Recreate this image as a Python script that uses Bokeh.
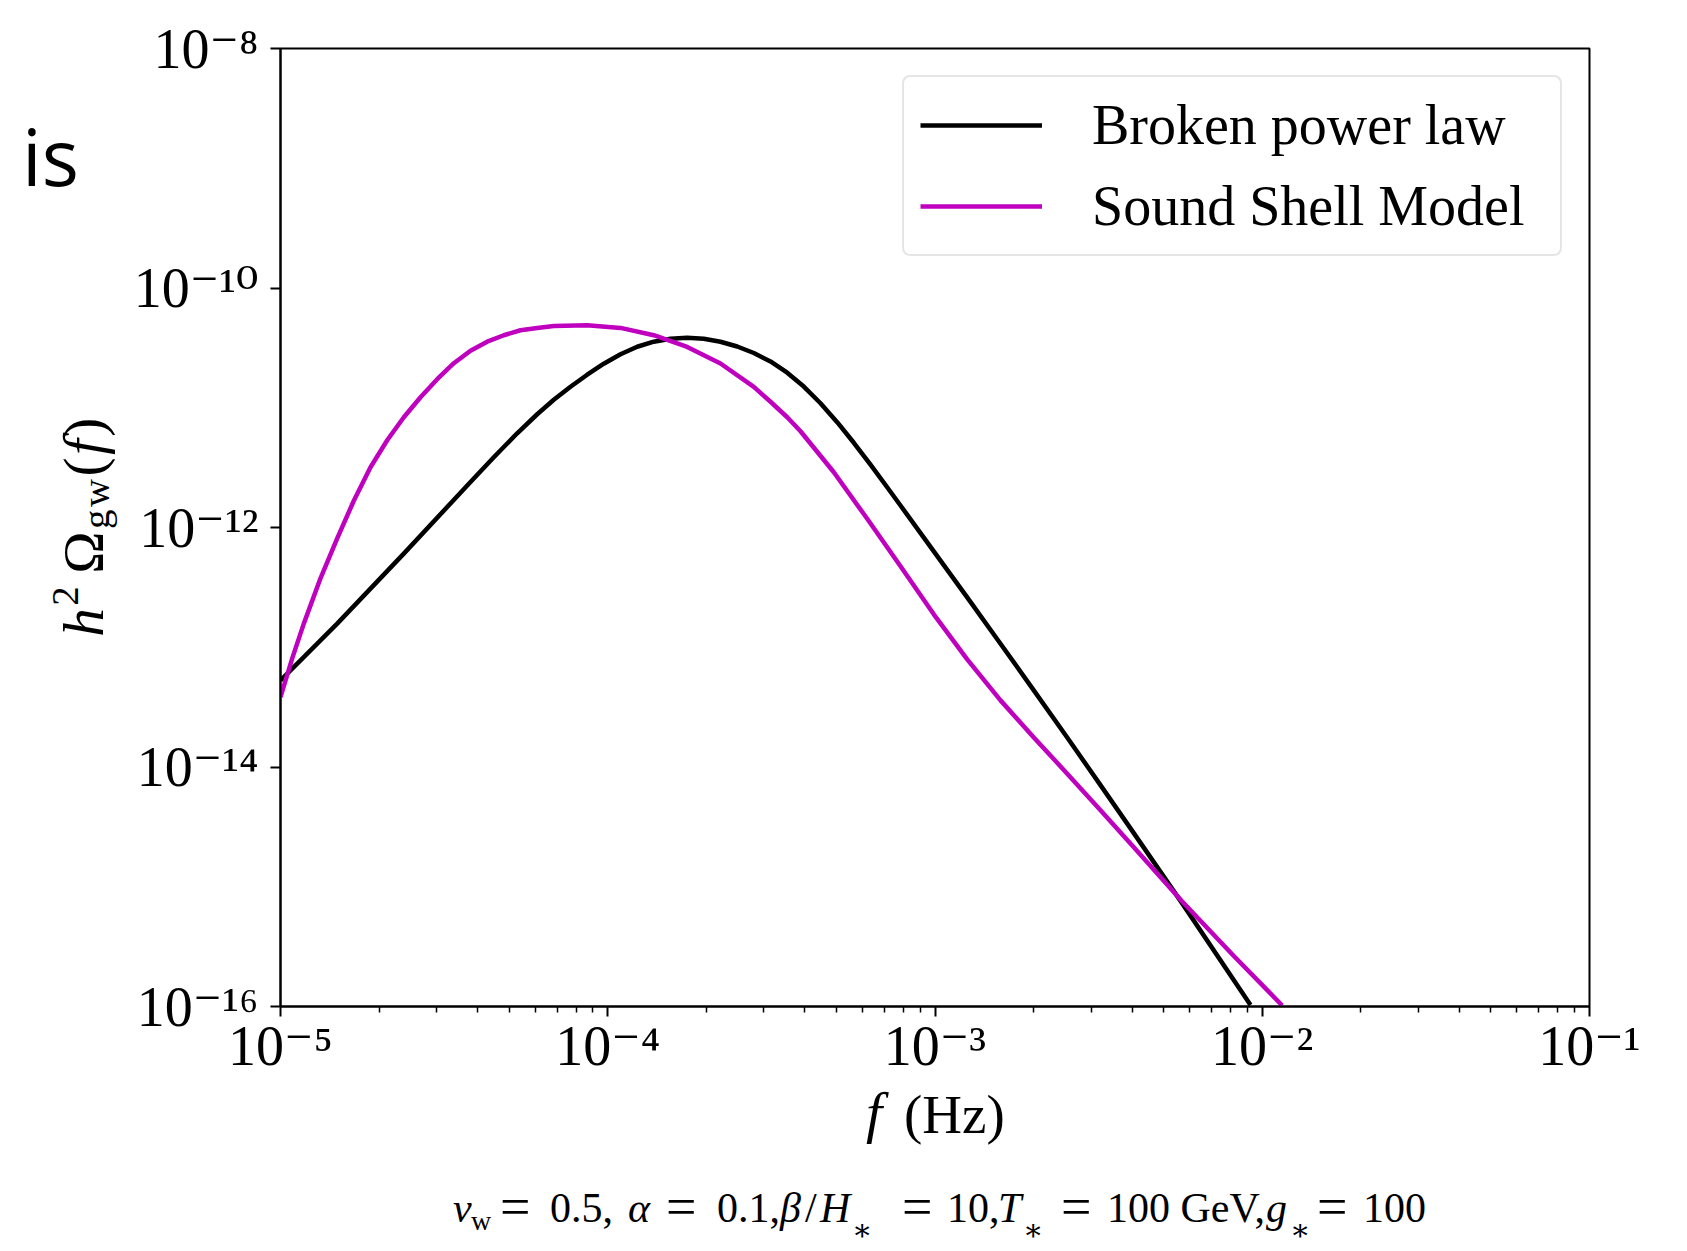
import numpy as np
from bokeh.plotting import figure
from bokeh.models import Range1d, FixedTicker, Legend, LegendItem, ColumnDataSource, Div
from bokeh.layouts import row, column
from bokeh.embed import file_html
from bokeh.resources import INLINE

# ---------------- data (log10 values) ----------------
bpl_log_f = [-5.0000, -4.8267, -4.6232, -4.4194, -4.3482, -4.2767, -4.2156, -4.1649,
             -4.1138, -4.0628, -4.0121, -3.9610, -3.9100, -3.8593, -3.8082, -3.7572,
             -3.7065, -3.6555, -3.6044, -3.5537, -3.5027, -3.4516, -3.4009, -3.3499,
             -3.2989, -3.2481, -3.1971, -3.1461, -3.1054, -3.0037, -2.9016, -2.7998,
             -2.6981, -2.5960, -2.4943, -2.3925, -2.2446, -2.0359]
bpl_log_omega = [-13.2766, -12.8028, -12.2180, -11.6199, -11.4135, -11.2130, -11.0543, -10.9332,
                 -10.8246, -10.7243, -10.6324, -10.5531, -10.4904, -10.4486, -10.4236, -10.4152,
                 -10.4236, -10.4486, -10.4887, -10.5430, -10.6132, -10.7076, -10.8229, -10.9624,
                 -11.1203, -11.2924, -11.4754, -11.6642, -11.8162, -12.1988, -12.5840, -12.9708,
                 -13.3601, -13.7536, -14.1512, -14.5522, -15.1387, -15.9875]

ssm_log_f = [-5.0000, -4.9642, -4.9288, -4.8778, -4.8267, -4.7760, -4.7250, -4.6740,
             -4.6232, -4.5722, -4.5212, -4.4704, -4.4194, -4.3684, -4.3176, -4.2666,
             -4.2156, -4.1649, -4.0628, -3.9610, -3.8593, -3.7572, -3.6555, -3.5537,
             -3.5027, -3.4516, -3.4110, -3.3092, -3.2072, -3.1054, -3.0037, -2.9016,
             -2.7998, -2.6981, -2.5960, -2.4943, -2.3925, -2.2446, -2.0869, -1.9391]
ssm_log_omega = [-13.4160, -13.0927, -12.8028, -12.4244, -12.0902, -11.7769, -11.4971, -11.2715,
                 -11.0794, -10.9123, -10.7619, -10.6282, -10.5238, -10.4486, -10.3944, -10.3526,
                 -10.3341, -10.3166, -10.3108, -10.3334, -10.3944, -10.4921, -10.6307, -10.8262,
                 -10.9499, -11.0794, -11.1963, -11.5388, -11.9273, -12.3241, -12.7251, -13.1011,
                 -13.4436, -13.7527, -14.0560, -14.3609, -14.6692, -15.1228, -15.5781, -15.9916]

series_names = ["Broken power law", "Sound Shell Model"]
series_colors = ["#000000", "#bf00bf"]

x_major_ticks = [1e-5, 1e-4, 1e-3, 1e-2, 1e-1]
x_tick_labels = ["10\u207b\u2075", "10\u207b\u2074", "10\u207b\u00b3", "10\u207b\u00b2", "10\u207b\u00b9"]
y_major_ticks = [1e-16, 1e-14, 1e-12, 1e-10, 1e-8]
y_tick_labels = ["10\u207b\u00b9\u2076", "10\u207b\u00b9\u2074", "10\u207b\u00b9\u00b2",
                 "10\u207b\u00b9\u2070", "10\u207b\u2078"]

SERIF = "Liberation Serif"
TICK_FONT = "Liberation Serif, DejaVu Serif, serif"
SERIF_CSS = "'Liberation Serif', 'DejaVu Serif', serif"

# ---------------- layout geometry (page pixels) ----------------
TOTAL_W, TOTAL_H = 1671, 1235
LEFT_W = 128            # strip holding the y label
PLOT_H = 1086           # height of the figure canvas
BOTTOM_H = TOTAL_H - PLOT_H

p = figure(width=TOTAL_W - LEFT_W, height=PLOT_H, x_axis_type="log", y_axis_type="log",
           x_range=Range1d(1e-5, 1e-1), y_range=Range1d(1e-16, 1e-8),
           output_backend="svg", toolbar_location=None,
           min_border_left=152, min_border_right=82, min_border_top=48, min_border_bottom=80)
p.background_fill_color = "white"
p.border_fill_color = "white"
p.outline_line_color = "black"
p.outline_line_width = 2
p.xgrid.visible = False
p.ygrid.visible = False

x_minor = [m * 10.0 ** k for k in range(-5, -1) for m in range(2, 10)]
p.xaxis.ticker = FixedTicker(ticks=x_major_ticks, minor_ticks=x_minor)
p.yaxis.ticker = FixedTicker(ticks=y_major_ticks, minor_ticks=[])
p.xaxis.major_label_overrides = dict(zip(x_major_ticks, x_tick_labels))
p.yaxis.major_label_overrides = dict(zip(y_major_ticks, y_tick_labels))

for ax in (p.xaxis, p.yaxis):
    ax.axis_line_width = 2
    ax.axis_line_color = "black"
    ax.major_tick_line_width = 2
    ax.major_tick_out = 10
    ax.major_tick_in = 0
    ax.minor_tick_line_width = 1.5
    ax.minor_tick_out = 6
    ax.minor_tick_in = 0
    ax.major_label_text_font = TICK_FONT
    ax.major_label_text_font_size = "56px"
    ax.major_label_text_color = "black"
    ax.axis_label = None
p.yaxis.minor_tick_line_color = None
p.xaxis.major_label_standoff = -2
p.yaxis.major_label_standoff = 12

src_bpl = ColumnDataSource(dict(f=10.0 ** np.array(bpl_log_f), omega=10.0 ** np.array(bpl_log_omega)))
src_ssm = ColumnDataSource(dict(f=10.0 ** np.array(ssm_log_f), omega=10.0 ** np.array(ssm_log_omega)))
r_bpl = p.line("f", "omega", source=src_bpl, line_color=series_colors[0], line_width=4.5,
               line_join="round")
r_ssm = p.line("f", "omega", source=src_ssm, line_color=series_colors[1], line_width=4.5,
               line_join="round")

legend = Legend(items=[LegendItem(label=series_names[0], renderers=[r_bpl]),
                       LegendItem(label=series_names[1], renderers=[r_ssm])],
                location="top_right")
legend.margin = 27
legend.padding = 16
legend.spacing = 17
legend.glyph_width = 122
legend.glyph_height = 64
legend.label_height = 64
legend.label_width = 452
legend.label_standoff = 50
legend.label_text_font = SERIF
legend.label_text_font_size = "56px"
legend.label_text_color = "black"
legend.border_line_color = "#cccccc"
legend.border_line_width = 2.5
legend.background_fill_color = "white"
legend.background_fill_alpha = 0.8
if "border_radius" in legend.properties():
    legend.border_radius = 8
p.add_layout(legend)


# ---------------- real-text labels outside the frame ----------------
def span(txt, left, baseline, size, italic=False, font=SERIF_CSS, asc=0.8375, extra=""):
    top = baseline - asc * size
    style = (f"position:absolute;left:{left:.1f}px;top:{top:.1f}px;font-family:{font};"
             f"font-size:{size}px;font-style:{'italic' if italic else 'normal'};"
             f"line-height:1;white-space:nowrap;color:#000;{extra}")
    return f'<span style="{style}">{txt}</span>'


def wrap(inner, w, h):
    return (f'<div style="position:relative;width:{w}px;height:{h}px;overflow:visible;margin:0;padding:0">'
            f'{inner}</div>')


# left strip: stray slide text and the rotated y label  h^2 Omega_gw(f)
ylab_inner = ('<i>h</i><span style="font-size:0.68em;position:relative;top:-25px">2</span>'
              '<span style="margin-left:10px">\u03a9</span>'
              '<span style="font-size:0.68em;position:relative;top:6px">gw</span>'
              '(<i>f</i>)')
ylab = (f'<span style="position:absolute;left:82.8px;top:526px;font-family:{SERIF_CSS};'
        f'font-size:57px;line-height:1;white-space:nowrap;color:#000;letter-spacing:2.5px;'
        f'transform:translate(-50%,-50%) rotate(-90deg)">{ylab_inner}</span>')
left_html = wrap(span("is", 22, 186, 78, font="'Open Sans', sans-serif", asc=0.888) + ylab,
                 LEFT_W, PLOT_H)
div_left = Div(text=left_html, width=LEFT_W, height=PLOT_H, margin=0)

# bottom strip: x label and the parameter line (coordinates relative to the strip)
OFF = PLOT_H
xlab = span("f", 866, 1133 - OFF, 58, italic=True) + span("(Hz)", 904, 1133 - OFF, 55)

BASE = 1222 - OFF
SUB = 1230 - OFF
STAR = 1240 - OFF
EQ = BASE + 3
FS, SS, ST, ES = 42, 28, 30, 54
pieces = [
    ("v", 453, BASE, FS, True), ("w", 471, SUB, SS, False), ("=", 500, EQ, ES, False),
    ("0.5,", 550, BASE, FS, False), ("\u03b1", 628, BASE, FS, True), ("=", 666, EQ, ES, False),
    ("0.1,", 717, BASE, FS, False), ("\u03b2", 780, BASE, FS, True), ("/", 805, BASE, FS, False),
    ("H", 820, BASE, FS, True), ("\u2217", 852, STAR, ST, False), ("=", 902, EQ, ES, False),
    ("10,", 947, BASE, FS, False), ("T", 998, BASE, FS, True), ("\u2217", 1023, STAR, ST, False),
    ("=", 1061, EQ, ES, False), ("100 GeV,", 1107, BASE, FS, False), ("g", 1266, BASE, FS, True),
    ("\u2217", 1290, STAR, ST, False), ("=", 1317, EQ, ES, False), ("100", 1363, BASE, FS, False),
]
sub_html = "".join(span(t, x, b, s, italic=it) for t, x, b, s, it in pieces)
div_bottom = Div(text=wrap(xlab + sub_html, TOTAL_W, BOTTOM_H), width=TOTAL_W, height=BOTTOM_H, margin=0)

layout = column(row(div_left, p, spacing=0), div_bottom, spacing=0)

open("out.html", "w").write(file_html(layout, INLINE))
